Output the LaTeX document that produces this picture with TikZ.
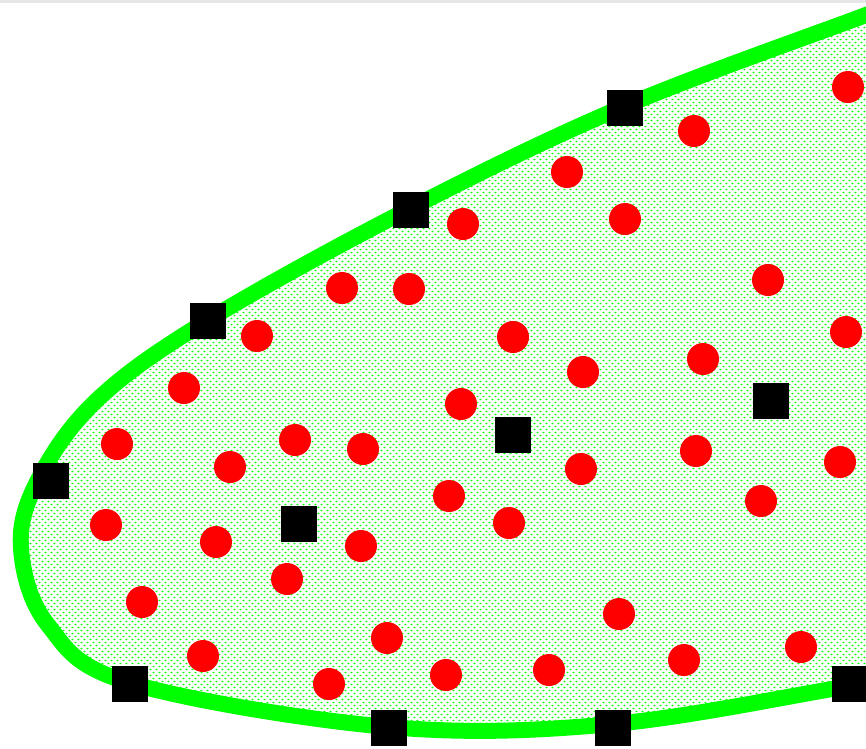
\documentclass[tikz,border=0pt]{standalone}
\usepackage{tikz}
\usetikzlibrary{patterns}
\definecolor{rimgreen}{HTML}{00FF00}
\definecolor{dotred}{HTML}{FF0000}
\definecolor{topgray}{HTML}{E6E6E6}
\pgfdeclarepatternformonly{greendots}{\pgfpointorigin}{\pgfpoint{3.4pt}{3.4pt}}{\pgfpoint{3.4pt}{3.4pt}}{
  \pgfpathellipse{\pgfpoint{0.85pt}{0.85pt}}{\pgfpoint{0.65pt}{0pt}}{\pgfpoint{0pt}{0.45pt}}
  \pgfpathellipse{\pgfpoint{2.55pt}{2.55pt}}{\pgfpoint{0.65pt}{0pt}}{\pgfpoint{0pt}{0.45pt}}
  \pgfusepath{fill}
}

\begin{document}
\begin{tikzpicture}[x=0.02cm, y=-0.02cm,
  marker/.style={fill=black, minimum size=0.72cm, inner sep=0pt},
  sample/.style={circle, fill=dotred, minimum size=0.64cm, inner sep=0pt}]
  \useasboundingbox (0,0) rectangle (866,748);
  \clip (0,0) rectangle (866,748);
  \fill[topgray] (0,0) rectangle (866,3);

  % outline of the region
  \draw[rimgreen, line width=0.32cm, pattern=greendots, pattern color=rimgreen]
    plot[smooth, tension=0.6] coordinates {(900,2) (866,15) (625,106) (411,208)
      (208,320) (97,400) (38,480) (21,548) (48,625) (130,683) (389,727)
      (613,724) (850,686) (900,680)} -- cycle;

  % squares on the boundary
  \node[marker] (b1) at (625,108) {};
  \node[marker] (b2) at (411,210) {};
  \node[marker] (b3) at (208,321) {};
  \node[marker] (b4) at (51,481) {};
  \node[marker] (b5) at (130,684) {};
  \node[marker] (b6) at (389,728) {};
  \node[marker] (b7) at (613,728) {};
  \node[marker] (b8) at (850,684) {};
  % squares inside
  \node[marker] (m1) at (513,435) {};
  \node[marker] (m2) at (299,524) {};
  \node[marker] (m3) at (771,401) {};

  % red points
  \foreach \px/\py [count=\i] in {848/87, 694/131, 567/172, 625/219, 463/224,
      768/280, 342/288, 409/289, 257/336, 513/337, 846/332, 703/359, 583/372,
      184/388, 461/404, 117/444, 295/440, 363/449, 230/467, 696/451, 581/469,
      840/462, 449/496, 509/523, 761/501, 106/525, 216/542, 361/546, 287/579,
      142/602, 619/614, 387/638, 801/647, 203/656, 684/660, 549/670, 446/675,
      329/684}
    \node[sample] (p\i) at (\px,\py) {};
\end{tikzpicture}
\end{document}
